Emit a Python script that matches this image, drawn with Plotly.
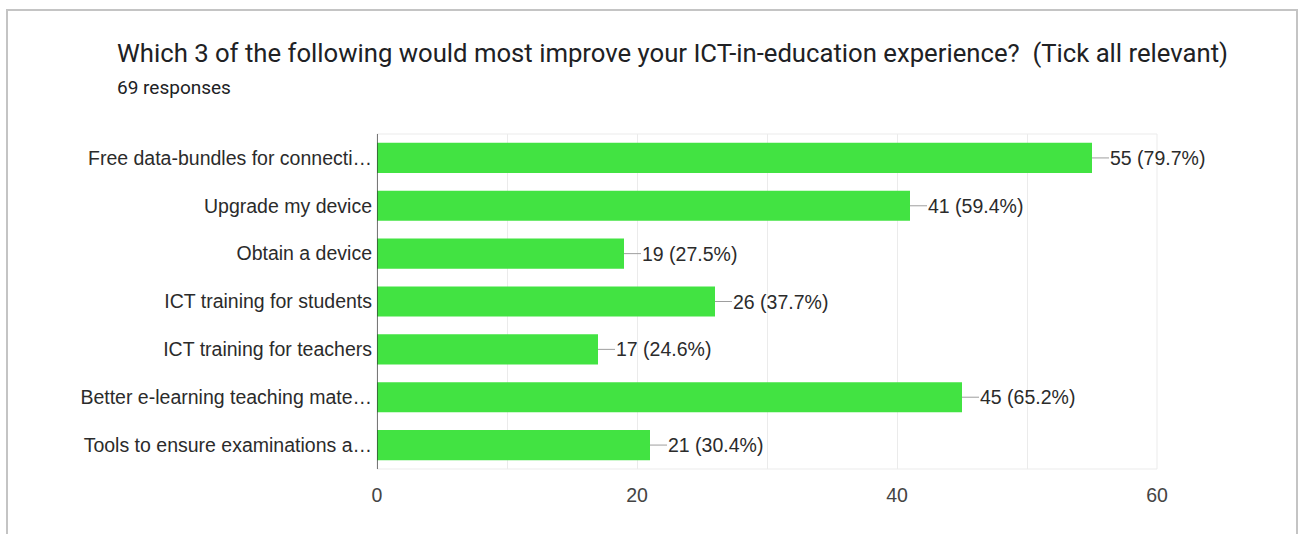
import plotly.graph_objects as go

# Survey results: options ticked by respondents
categories = [
    "Free data-bundles for connecti…",
    "Upgrade my device",
    "Obtain a device",
    "ICT training for students",
    "ICT training for teachers",
    "Better e-learning teaching mate…",
    "Tools to ensure examinations a…",
]
counts = [55, 41, 19, 26, 17, 45, 21]
total_responses = 69
x_ticks = [0, 20, 40, 60]

title_text = "Which 3 of the following would most improve your ICT-in-education experience?\u00a0 (Tick all relevant)"
subtitle_text = f"{total_responses} responses"

labels = [f"{c} ({c / total_responses * 100:.1f}%)" for c in counts]

W, H = 1303, 534
L, R, T, B = 377, 146, 134, 65
pw, ph = W - L - R, H - T - B


def px_x(p):
    return (p - L) / pw


def px_y(p):
    return (H - B - p) / ph


fig = go.Figure(
    go.Bar(
        x=counts,
        y=categories,
        orientation="h",
        marker=dict(color="#42e342", line=dict(width=0)),
        width=0.63,
        hoverinfo="skip",
    )
)

# value labels with a short leader line from the bar end
for c, cat, lab in zip(counts, categories, labels):
    fig.add_annotation(
        x=c, y=cat, xref="x", yref="y",
        text=lab, showarrow=True, arrowhead=0, arrowwidth=1,
        arrowcolor="#9e9e9e", ax=17, ay=0, axref="pixel", ayref="pixel",
        xanchor="left", yanchor="middle", borderpad=0,
        font=dict(family="Liberation Sans, Arial", size=19.5, color="#2b2b2b"),
    )

# title and response count
fig.add_annotation(
    x=px_x(115), y=px_y(53), xref="paper", yref="paper",
    text=title_text, showarrow=False, xanchor="left", yanchor="middle",
    font=dict(family="Roboto", size=25.7, color="#202124"),
)
fig.add_annotation(
    x=px_x(115), y=px_y(88), xref="paper", yref="paper",
    text=subtitle_text, showarrow=False, xanchor="left", yanchor="middle",
    font=dict(family="Roboto", size=19, color="#202124"),
)

# card outline
fig.add_shape(
    type="rect", xref="paper", yref="paper",
    x0=px_x(7), x1=px_x(1297), y0=px_y(560), y1=px_y(10),
    line=dict(color="#c4c4c4", width=2), layer="below",
)
# plot frame (top and bottom light lines)
fig.add_shape(
    type="rect", xref="paper", yref="paper", x0=0, x1=1, y0=0, y1=1,
    line=dict(color="#ebebeb", width=1), layer="below",
)
# baseline at zero
fig.add_shape(
    type="line", xref="x", yref="paper", x0=0, x1=0, y0=0, y1=1,
    line=dict(color="#333333", width=1.3),
)

fig.update_layout(
    width=W, height=H,
    margin=dict(l=L, r=R, t=T, b=B),
    paper_bgcolor="white", plot_bgcolor="white",
    showlegend=False,
    bargap=0.37,
    xaxis=dict(
        range=[0, 60], tickvals=x_ticks, showgrid=True, gridcolor="#ebebeb",
        minor=dict(dtick=10, showgrid=True, gridcolor="#ebebeb"),
        zeroline=False, showline=False, ticks="",
        tickfont=dict(family="Liberation Sans, Arial", size=19.5, color="#444444"),
        ticklabelstandoff=12, fixedrange=True,
    ),
    yaxis=dict(
        autorange="reversed", showgrid=False, zeroline=False, showline=False,
        ticks="", ticklabelstandoff=4,
        tickfont=dict(family="Liberation Sans, Arial", size=19.5, color="#2b2b2b"),
        fixedrange=True,
    ),
)

fig.write_html("out.html")
